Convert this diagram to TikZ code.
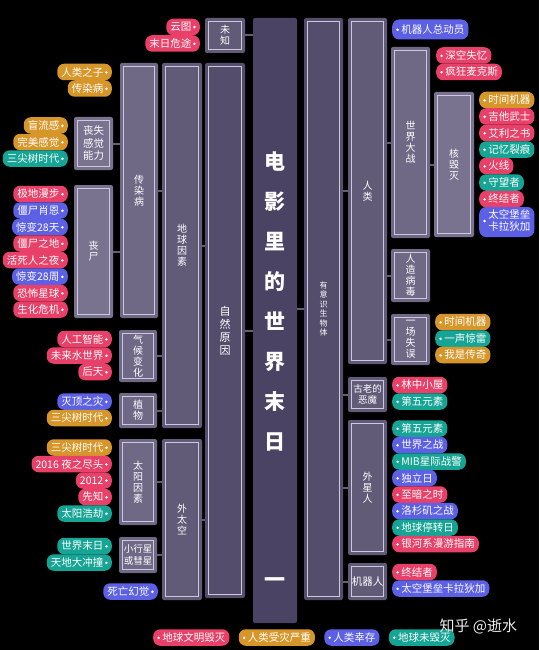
\documentclass[tikz,border=0pt]{standalone}
\usepackage{fontspec}
\setmainfont{Noto Sans CJK SC}
\usepackage{xcolor}
\usepackage{tikz}
\usetikzlibrary{positioning}

\definecolor{bgtitle}{RGB}{74,67,99}
\definecolor{bgone}{RGB}{84,77,108}
\definecolor{bgtwo}{RGB}{97,91,120}
\definecolor{bgthree}{RGB}{111,105,134}
\definecolor{bgfour}{RGB}{121,115,143}
\definecolor{framec}{RGB}{205,200,222}
\definecolor{linkc}{RGB}{100,95,118}
\definecolor{cred}{RGB}{232,64,104}
\definecolor{corange}{RGB}{214,150,42}
\definecolor{cblue}{RGB}{92,96,228}
\definecolor{cteal}{RGB}{22,164,148}

\newcommand{\dt}{\tikz[baseline={(0pt,-3.7pt)}]\fill[white] (0pt,0pt) circle (1.4pt);}

\tikzset{
  box/.style={rounded corners=2pt, inner sep=0pt, text=white, align=center,
    font=\fontsize{10}{11}\selectfont,
    path picture={\draw[framec, line width=0.9pt, sharp corners]
      ([xshift=3.5pt,yshift=-3.5pt]path picture bounding box.north west) rectangle
      ([xshift=-3.5pt,yshift=3.5pt]path picture bounding box.south east);}},
  chip/.style={rounded corners=7pt, minimum height=16.5pt, inner xsep=4pt, inner ysep=0pt,
    text=white, font=\fontsize{10.5}{11.5}\selectfont},
  chipL/.style={chip, anchor=east},
  chipR/.style={chip, anchor=west},
  link/.style={draw=linkc, line width=2pt},
}

\begin{document}
\begin{tikzpicture}[x=1pt, y=-1pt]
    \fill[black] (0,0) rectangle (539,650);
    \useasboundingbox (0,0) rectangle (539,650);

    % title bar
    \node[fill=bgtitle, rounded corners=2pt, minimum width=44, minimum height=605] (title) at (275,320.5) {};
    \node[text=white, align=center, font=\fontsize{21}{40}\selectfont\bfseries] (titletext) at (275,301) {电\\影\\里\\的\\世\\界\\末\\日};
    \node[text=white, font=\fontsize{21}{24}\selectfont\bfseries] (titlepart) at (275,583) {一};

    % left: natural causes
    \node[box, fill=bgtwo, minimum width=40, minimum height=35] (weizhi) at (225,35.5) {未\\知};
    \node[box, fill=bgone, minimum width=40, minimum height=535, font=\fontsize{11}{13}\selectfont] (ziran) at (225,330.5) {自\\然\\原\\因};
    \node[box, fill=bgtwo, minimum width=40, minimum height=365] (diqiu) at (182,245.5) {地\\球\\因\\素};
    \node[box, fill=bgtwo, minimum width=40, minimum height=161] (waitaikong) at (182,519.5) {外\\太\\空};
    \node[box, fill=bgthree, minimum width=38, minimum height=255] (chuanran) at (139,190.5) {传\\染\\病};
    \node[box, fill=bgthree, minimum width=38, minimum height=52] (qihou) at (138,356) {气\\候\\变\\化};
    \node[box, fill=bgthree, minimum width=38, minimum height=35] (zhiwu) at (138,410.5) {植\\物};
    \node[box, fill=bgthree, minimum width=38, minimum height=86] (taiyang) at (138,482) {太\\阳\\因\\素};
    \node[box, fill=bgthree, minimum width=38, minimum height=36, font=\fontsize{9.5}{11.5}\selectfont] (xiaoxing) at (138,555) {小行星\\或彗星};
    \node[box, fill=bgfour, minimum width=39, minimum height=53, font=\fontsize{10.5}{12.5}\selectfont] (ganjue) at (93.5,143.5) {丧失\\感觉\\能力};
    \node[box, fill=bgfour, minimum width=39, minimum height=133] (jiangshi) at (93.5,251.5) {丧\\尸};

    % right: conscious beings
    \node[box, fill=bgone, minimum width=39, minimum height=582, font=\fontsize{8}{9.5}\selectfont] (youyishi) at (323.5,309) {有\\意\\识\\生\\物\\体};
    \node[box, fill=bgtwo, minimum width=39, minimum height=346] (renlei) at (367.5,191) {人\\类};
    \node[box, fill=bgtwo, minimum width=39, minimum height=35, font=\fontsize{9.5}{11.5}\selectfont] (gulao) at (367.5,394.5) {古老的\\恶魔};
    \node[box, fill=bgtwo, minimum width=39, minimum height=135] (waixing) at (367.5,487.5) {外\\星\\人};
    \node[box, fill=bgtwo, minimum width=39, minimum height=37, font=\fontsize{10.5}{12}\selectfont] (jiqi) at (367.5,581.5) {机器人};
    \node[box, fill=bgthree, minimum width=39, minimum height=191] (shijie) at (410.5,142.5) {世\\界\\大\\战};
    \node[box, fill=bgthree, minimum width=39, minimum height=53] (renzao) at (410.5,275.5) {人\\造\\病\\毒};
    \node[box, fill=bgthree, minimum width=39, minimum height=51] (shiwu) at (410.5,339.5) {一\\场\\失\\误};
    \node[box, fill=bgfour, minimum width=40, minimum height=145] (hehuimie) at (454,164.5) {核\\毁\\灭};

    % links
    \draw[link] (weizhi.east) -- (title.west |- weizhi.east);
    \draw[link] (ziran.east) -- (title.west |- ziran.east);
    \draw[link] (title.east |- youyishi.west) -- (youyishi.west);
    \draw[link] (diqiu.east) -- (ziran.west |- diqiu.east);
    \draw[link] (waitaikong.east) -- (ziran.west |- waitaikong.east);
    \draw[link] (chuanran.east) -- (diqiu.west |- chuanran.east);
    \draw[link] (qihou.east) -- (diqiu.west |- qihou.east);
    \draw[link] (zhiwu.east) -- (diqiu.west |- zhiwu.east);
    \draw[link] (taiyang.east) -- (waitaikong.west |- taiyang.east);
    \draw[link] (xiaoxing.east) -- (waitaikong.west |- xiaoxing.east);
    \draw[link] (ganjue.east) -- (chuanran.west |- ganjue.east);
    \draw[link] (jiangshi.east) -- (chuanran.west |- jiangshi.east);
    \draw[link] (youyishi.east |- renlei.west) -- (renlei.west);
    \draw[link] (youyishi.east |- gulao.west) -- (gulao.west);
    \draw[link] (youyishi.east |- waixing.west) -- (waixing.west);
    \draw[link] (youyishi.east |- jiqi.west) -- (jiqi.west);
    \draw[link] (renlei.east |- shijie.west) -- (shijie.west);
    \draw[link] (renlei.east |- renzao.west) -- (renzao.west);
    \draw[link] (renlei.east |- shiwu.west) -- (shiwu.west);
    \draw[link] (shijie.east |- hehuimie.west) -- (hehuimie.west);

    % left films
    \node[chipL, fill=cred] (yuntu) at (200,27) {云图\,\dt};
    \node[chipL, fill=cred] (moriweitu) at (200,43.5) {末日危途\,\dt};
    \node[chipL, fill=corange] (renleizhizi) at (112,72) {人类之子\,\dt};
    \node[chipL, fill=corange] (chuanranbing) at (112,88.5) {传染病\,\dt};
    \node[chipL, fill=corange] (mangliugan) at (68,125.5) {盲流感\,\dt};
    \node[chipL, fill=corange] (wanmei) at (68,142) {完美感觉\,\dt};
    \node[chipL, fill=cteal] (sanjiana) at (68,158.5) {三尖树时代\,\dt};
    \node[chipL, fill=cred] (jidi) at (68,194) {极地漫步\,\dt};
    \node[chipL, fill=cblue] (xiaoen) at (68,210.5) {僵尸肖恩\,\dt};
    \node[chipL, fill=cblue] (jingbiana) at (68,227) {惊变28天\,\dt};
    \node[chipL, fill=cred] (jiangshizhidi) at (68,243.5) {僵尸之地\,\dt};
    \node[chipL, fill=cred] (huosiren) at (68,260) {活死人之夜\,\dt};
    \node[chipL, fill=cblue] (jingbianb) at (68,276.5) {惊变28周\,\dt};
    \node[chipL, fill=cred] (kongbu) at (68,293) {恐怖星球\,\dt};
    \node[chipL, fill=cred] (shenghua) at (68,309.5) {生化危机\,\dt};
    \node[chipL, fill=cred] (rengong) at (112,339) {人工智能\,\dt};
    \node[chipL, fill=cred] (shuishijie) at (112,355.5) {未来水世界\,\dt};
    \node[chipL, fill=cred] (houtian) at (112,372) {后天\,\dt};
    \node[chipL, fill=cblue] (mieding) at (112,401.5) {灭顶之灾\,\dt};
    \node[chipL, fill=corange] (sanjianb) at (112,418) {三尖树时代\,\dt};
    \node[chipL, fill=corange] (sanjianc) at (112,447.5) {三尖树时代\,\dt};
    \node[chipL, fill=cred] (yezhi) at (112,464) {2016 夜之尽头\,\dt};
    \node[chipL, fill=cred] (ershiyier) at (112,480.5) {2012\,\dt};
    \node[chipL, fill=cred] (xianzhi) at (112,497) {先知\,\dt};
    \node[chipL, fill=cteal] (haojie) at (112,513.5) {太阳浩劫\,\dt};
    \node[chipL, fill=cteal] (shijiemori) at (112,546) {世界末日\,\dt};
    \node[chipL, fill=cteal] (chongzhuang) at (112,562.5) {天地大冲撞\,\dt};
    \node[chipL, fill=cblue] (siwang) at (158,591.5) {死亡幻觉\,\dt};

    % right films
    \node[chipR, fill=cblue, minimum height=20] (walle) at (392,29.5) {\dt\ 机器人总动员};
    \node[chipR, fill=cred] (shenkong) at (436,55.5) {\dt\ 深空失忆};
    \node[chipR, fill=cred] (fengkuang) at (436,72) {\dt\ 疯狂麦克斯};
    \node[chipR, fill=corange] (shijiana) at (479,100) {\dt\ 时间机器};
    \node[chipR, fill=cred] (jita) at (479,116.5) {\dt\ 吉他武士};
    \node[chipR, fill=cred] (aili) at (479,133) {\dt\ 艾利之书};
    \node[chipR, fill=cteal] (jiyi) at (479,149.5) {\dt\ 记忆裂痕};
    \node[chipR, fill=cred] (huoxian) at (479,166) {\dt\ 火线};
    \node[chipR, fill=cteal] (shouwang) at (479,182.5) {\dt\ 守望者};
    \node[chipR, fill=cred] (zhongjiea) at (479,199) {\dt\ 终结者};
    \node[chipR, fill=cblue, minimum height=30] (taikonga) at (479,222) {\dt\ \begin{tabular}{@{}c@{}}太空堡垒\\卡拉狄加\end{tabular}};
    \node[chipR, fill=corange] (shijianb) at (435,322) {\dt\ 时间机器};
    \node[chipR, fill=cteal] (yisheng) at (435,338.5) {\dt\ 一声惊雷};
    \node[chipR, fill=corange] (chuanqi) at (435,355) {\dt\ 我是传奇};
    \node[chipR, fill=cred] (linzhong) at (392,385) {\dt\ 林中小屋};
    \node[chipR, fill=cteal] (diwua) at (392,401.5) {\dt\ 第五元素};
    \node[chipR, fill=cteal] (diwub) at (392,428.5) {\dt\ 第五元素};
    \node[chipR, fill=cblue] (zhizhan) at (392,445) {\dt\ 世界之战};
    \node[chipR, fill=cteal] (mib) at (392,461.5) {\dt\ MIB星际战警};
    \node[chipR, fill=cblue] (duli) at (392,478) {\dt\ 独立日};
    \node[chipR, fill=cred] (zhian) at (392,494.5) {\dt\ 至暗之时};
    \node[chipR, fill=cblue] (luoshan) at (392,511) {\dt\ 洛杉矶之战};
    \node[chipR, fill=cteal] (tingzhuan) at (392,527.5) {\dt\ 地球停转日};
    \node[chipR, fill=cred] (yinhe) at (392,544) {\dt\ 银河系漫游指南};
    \node[chipR, fill=cred] (zhongjieb) at (392,572) {\dt\ 终结者};
    \node[chipR, fill=cblue] (taikongb) at (392,588.5) {\dt\ 太空堡垒卡拉狄加};

    % legend
    \node[chipR, fill=cred] (lgwenming) at (153,637.5) {\dt\ 地球文明毁灭};
    \node[chipR, fill=corange, right=9pt of lgwenming] (lgshouzai) {\dt\ 人类受灾严重};
    \node[chipR, fill=cblue, right=9pt of lgshouzai] (lgxingcun) {\dt\ 人类幸存};
    \node[chipR, fill=cteal, right=9pt of lgxingcun] (lgweihui) {\dt\ 地球未毁灭};
    \node[anchor=west, text=white!85!gray, font=\fontsize{15}{17}\selectfont] (zhihu) at (436,626) {知乎 @逝水};
\end{tikzpicture}
\end{document}
